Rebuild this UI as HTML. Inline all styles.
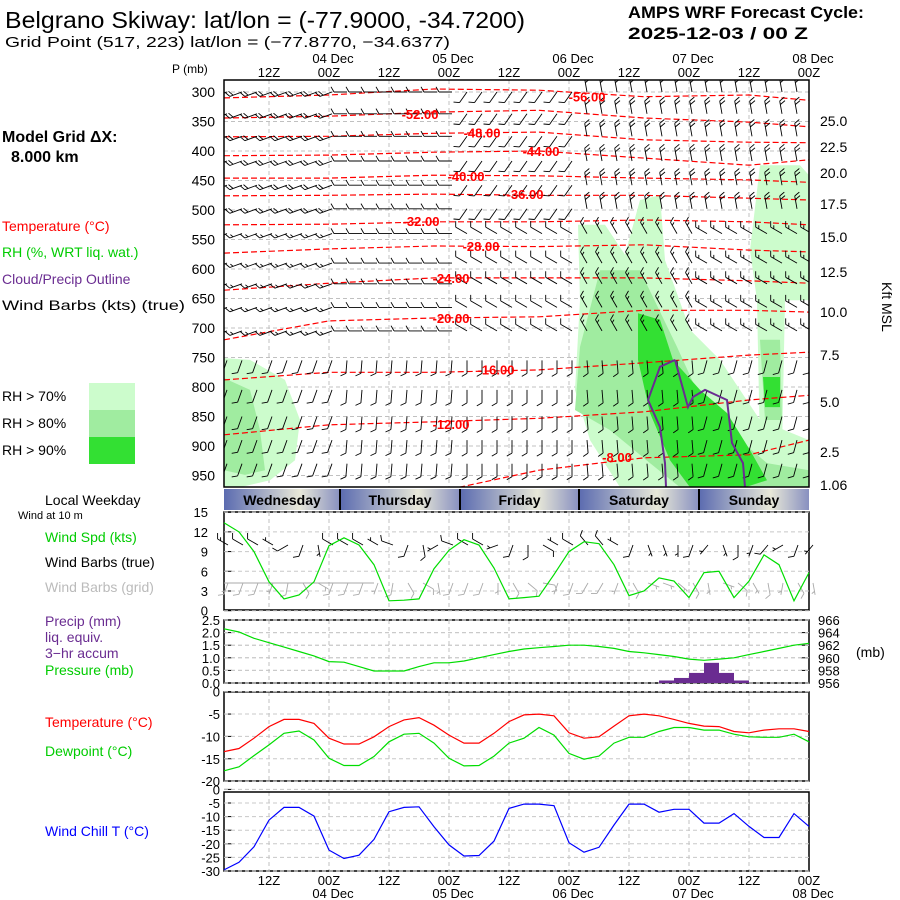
<!DOCTYPE html>
<html><head><meta charset="utf-8"><style>
html,body{margin:0;padding:0;background:#fff;}
svg{display:block;font-family:"Liberation Sans",sans-serif;}
.t{font-size:14px;}
</style></head><body>
<svg id="c" width="900" height="900" viewBox="0 0 900 900">
<defs>
<linearGradient id="dayg" x1="0" x2="1" y1="0" y2="0">
<stop offset="0" stop-color="#5b6bb0"/><stop offset="0.65" stop-color="#e8e8d8"/><stop offset="1" stop-color="#8890c0"/>
</linearGradient>
<clipPath id="mainclip"><rect x="224" y="80" width="585" height="407"/></clipPath>
</defs>
<rect x="0" y="0" width="900" height="900" fill="#fff"/>
<text x="5" y="28" font-size="23" textLength="520" lengthAdjust="spacingAndGlyphs">Belgrano Skiway:  lat/lon = (-77.9000, -34.7200)</text>
<text x="5" y="47" font-size="15" textLength="445" lengthAdjust="spacingAndGlyphs">Grid Point (517, 223) lat/lon = (−77.8770, −34.6377)</text>
<text x="628" y="18" font-size="17" font-weight="bold" textLength="236" lengthAdjust="spacingAndGlyphs">AMPS WRF Forecast Cycle:</text>
<text x="628" y="39" font-size="17" font-weight="bold" textLength="180" lengthAdjust="spacingAndGlyphs">2025-12-03 / 00  Z</text>
<text x="172" y="73" font-size="12">P (mb)</text>
<text x="2" y="142" font-size="16" font-weight="bold">Model Grid ΔX:</text>
<text x="11" y="162" font-size="16" font-weight="bold">8.000 km</text>
<text x="2" y="231" class="t" fill="#f00">Temperature (°C)</text>
<text x="2" y="257" class="t" fill="#0c0">RH (%, WRT liq. wat.)</text>
<text x="2" y="284" class="t" fill="#6a2c91">Cloud/Precip Outline</text>
<text x="2" y="310" class="t" fill="#000" textLength="183" lengthAdjust="spacingAndGlyphs">Wind Barbs (kts) (true)</text>
<text x="2" y="401" class="t">RH &gt; 70%</text>
<text x="2" y="428" class="t">RH &gt; 80%</text>
<text x="2" y="455" class="t">RH &gt; 90%</text>
<rect x="89" y="383" width="46" height="27" fill="#ccfccc"/>
<rect x="89" y="410" width="46" height="27" fill="#a0eca0"/>
<rect x="89" y="437" width="46" height="27" fill="#33e033"/>
<text x="45" y="505" class="t">Local Weekday</text>
<text x="18" y="519" font-size="11">Wind at 10 m</text>
<text x="45" y="542" class="t" fill="#0c0">Wind Spd (kts)</text>
<text x="45" y="567" class="t">Wind Barbs (true)</text>
<text x="45" y="592" class="t" fill="#bbb">Wind Barbs (grid)</text>
<text x="45" y="626" class="t" fill="#6a2c91">Precip (mm)</text>
<text x="45" y="642" class="t" fill="#6a2c91">liq. equiv.</text>
<text x="45" y="658" class="t" fill="#6a2c91">3−hr accum</text>
<text x="45" y="675" class="t" fill="#0c0">Pressure (mb)</text>
<text x="856" y="657" class="t">(mb)</text>
<text x="45" y="727" class="t" fill="#f00">Temperature (°C)</text>
<text x="45" y="756" class="t" fill="#0c0">Dewpoint (°C)</text>
<text x="45" y="836" class="t" fill="#00f">Wind Chill T (°C)</text>
<text x="0" y="0" class="t" transform="translate(882,282) rotate(90)">Kft MSL</text>
<g id="g"></g>
</svg>
<script>
// ---------- data ----------
const hours = [3,6,9,12,15,18,21,24,27,30,33,36,39,42,45,48,51,54,57,60,63,66,69,72,75,78,81,84,87,90,93,96,99,102,105,108,111,114,117,120];
const gridHours = [12,24,36,48,60,72,84,96,108,120];
const timeLabels = ['12Z','00Z','12Z','00Z','12Z','00Z','12Z','00Z','12Z','00Z'];
const dateHours = [24,48,72,96,120];
const dateLabels = ['04 Dec','05 Dec','06 Dec','07 Dec','08 Dec'];
const pLevels = [300,350,400,450,500,550,600,650,700,750,800,850,900,950];
const hgtLabels = ['25.0','22.5','20.0','17.5','15.0','12.5','10.0','7.5','5.0','2.5','1.06'];
const hgtPres = [349,393,437,490,546,605,673,746,825,910,966];
const dayNames = ['Wednesday','Thursday','Friday','Saturday','Sunday'];
const dayStartHours = [3,26.2,50.2,74,98];
const dayEndHours = [26.2,50.2,74,98,120];

const tempValues = [-56,-52,-48,-44,-40,-36,-32,-28,-24,-20,-16,-12];
const contourHours = [3,24,45,66,87,108,120];
const contourP = [
 [310,305,295,297,308,305,314],
 [344,341,334,331,344,351,359],
 [376,375,370,368,381,385,386],
 [408,407,402,400,412,424,415],
 [446,446,441,442,446,449,453],
 [476,475,473,475,475,480,483],
 [525,524,520,520,517,520,525],
 [573,566,561,562,559,568,571],
 [636,624,615,615,615,620,624],
 [720,688,683,681,670,670,673],
 [788,775,775,771,759,746,741],
 [881,864,859,853,842,822,814]
];
const minus8Hours = [50,66,87,108,120];
const minus8P = [970,941,920,915,890];
const labelValues = [-56,-52,-48,-44,-40,-36,-32,-28,-24,-20,-16,-12,-8];
const labelHours = [75.6,42.2,54.6,66.4,51.4,63.2,42.4,54.4,48.4,48.4,57.4,48.4,81.6];
const labelPres = [308,337,369,400,442,473,519,561,615,683,770,863,919];

const rh70MainH = [73.8,79.2,83.2,86.2,90.2,91.2,96.2,102.2,110.2,120,120,82.2,76.2,73.2,74.2];
const rh70MainP = [525,525,576,483,475,585,703,754,856,890,970,970,890,805,653];
const rh70RightH = [110.2,118.2,120,120,115.2,114.6,110.2,109.6,108.2];
const rh70RightP = [424,424,441,653,653,907,907,653,568];
const rh70LeftH = [3,8.2,15.2,18.2,17.2,12.2,6.2,3];
const rh70LeftP = [751,754,788,856,924,958,970,970];
const rh80MainH = [78.2,86.2,93.6,99.6,106.2,111.6,120,120,94.2,88.2,80.2,73.2,74.2];
const rh80MainP = [602,602,732,844,890,929,941,970,970,929,873,839,732];
const rh80RightH = [110.2,114.2,114.6,111.2];
const rh80RightP = [720,720,856,856];
const rh80LeftH = [3,8.2,10.2,11.2,7.2,3];
const rh80LeftP = [785,805,873,941,949,941];
const rh90MainH = [85.8,90.2,92.8,98.2,103.6,108.2,111.6,107.2,96.2,92.2,88.2,85.8];
const rh90MainP = [675,686,754,805,844,907,958,970,970,924,844,754];
const rh90RightH = [110.8,114.2,114.2,111.2];
const rh90RightP = [783,783,834,834];
const cloudAH = [93.2,90.2,87.8,90.2,91.2,91.4];
const cloudAP = [754,766,822,868,929,970];
const cloudBH = [93.2,95.8,96.8,99.2,103.6,104.6,106.8,107.2];
const cloudBP = [754,834,817,805,822,895,929,970];

const barbRowsP = [300,337,375,417,458,498,540,590,625,665,705,755,805,850,890,930];
const upperDir = [250,270,215,350,350];
const upperSpd = [20,10,10,20,20];
const midDir = [250,270,300,330,300];
const midSpd = [15,10,10,15,15];
const lowDir = [200,185,180,175,195];
const lowSpd = [10,10,10,10,10];

const windSpd = [13.4,12.0,9.0,4.4,1.8,2.4,4.4,9.9,11.1,10.0,7.0,1.5,1.6,1.8,6.4,9.2,10.8,10.0,6.5,1.8,2.0,2.2,5.5,9.0,10.5,10.2,7.0,2.3,3.0,5.0,4.5,2.0,5.8,6.0,2.0,4.5,8.5,7.0,1.5,5.8];
const windDir = [300,300,300,300,240,200,170,300,300,300,300,290,200,170,240,290,300,300,250,200,180,120,300,300,320,320,300,200,160,160,180,200,220,160,180,200,220,240,200,220];
const gridDir = [200,200,200,200,190,150,120,200,200,200,200,190,150,120,170,200,200,200,180,150,130,100,200,200,210,210,200,150,110,110,130,150,170,110,130,150,170,190,150,170];
const precip = [0,0,0,0,0,0,0,0,0,0,0,0,0,0,0,0,0,0,0,0,0,0,0,0,0,0,0,0,0,0.1,0.2,0.4,0.8,0.4,0.1,0,0,0,0,0];
const pressure = [964.6,964.1,963.1,962.4,961.7,961.0,960.3,959.4,959.3,958.6,957.9,957.9,957.9,958.6,959.2,959.2,959.5,960,960.5,961,961.4,961.6,961.8,962,962,961.8,961.5,961,960.8,960.5,960.2,959.8,959.6,959.8,960,960.5,961,961.5,962,962.3];
const temp = [-13.4,-12.7,-10.4,-7.8,-6.2,-6.2,-7.1,-10.4,-11.7,-11.7,-10.1,-7.8,-6.3,-5.8,-7.5,-9.7,-11.5,-11.5,-9.3,-6.7,-5.2,-5.0,-5.4,-9.2,-10.4,-10.1,-7.7,-5.4,-5.0,-5.4,-6.2,-7.1,-7.7,-7.8,-8.9,-9.2,-8.6,-8.3,-8.3,-8.9];
const dewpt = [-17.7,-16.8,-14.3,-11.9,-9.3,-8.8,-10.8,-14.9,-16.5,-16.5,-14.5,-11.2,-9.5,-9.3,-11.5,-14.9,-16.6,-16.5,-14.4,-11.5,-10.4,-8.0,-9.7,-13.8,-15.1,-14.4,-11.5,-10.2,-10.2,-8.9,-8.0,-8.0,-8.6,-8.6,-9.5,-10.1,-10.2,-10.2,-9.5,-11.2];
const windChill = [-29.6,-26.8,-21.1,-11.3,-6.6,-6.6,-9.8,-22.3,-25.4,-24.2,-18.4,-8.2,-6.6,-6.4,-13.7,-20.4,-24.5,-24.3,-19.0,-7.0,-5.4,-5.4,-6.0,-19.6,-23.1,-21.3,-13.1,-5.4,-5.4,-8.4,-7.3,-7.3,-12.4,-12.4,-8.9,-13.6,-17.7,-17.7,-8.9,-13.6];
const spdTicks = [0,3,6,9,12,15];
const precipTicks = ['0.0','0.5','1.0','1.5','2.0','2.5'];
const presTicks = [956,958,960,962,964,966];
const tempTicks = [0,-5,-10,-15,-20];
const wcTicks = [0,-5,-10,-15,-20,-25,-30];

const X0=224, X1=809;
const xH = h => X0 + (h-3)*5;
const yP = p => 92 + (p-300)*0.59;
const ySpd = v => 610.7 - v*6.57;
const yPrecip = v => 683 - v*25.2;
const yPres = v => 683 - (v-956)*6.3;
const yT = v => 691.7 - v*4.47;
const yWC = v => 789.4 - v*2.72;

const NS='http://www.w3.org/2000/svg';
const root=document.getElementById('g');
function mk(tag, attrs, parent){const e=document.createElementNS(NS,tag);for(const k in attrs)e.setAttribute(k,attrs[k]);(parent||root).appendChild(e);return e;}
function pts(xs,ys){return xs.map((x,i)=>x.toFixed(1)+','+ys[i].toFixed(1)).join(' ');}

const panels=[[80,487,'main-panel'],[512,610,'wind-panel'],[620,683,'precip-panel'],[692,781,'temperature-panel'],[792,871,'wind-chill-panel']];

panels.forEach(pn=>{
  gridHours.forEach(h=>{
    const l=mk('line',{x1:xH(h),x2:xH(h),y1:pn[0],y2:pn[1],stroke:'#c0c0c0','stroke-dasharray':'4,3','stroke-width':1});
    
    
  });
});
pLevels.forEach(p=>{
  const l=mk('line',{x1:X0,x2:X1,y1:yP(p),y2:yP(p),stroke:'#c0c0c0','stroke-dasharray':'4,3'});
  
  
  const t=mk('text',{x:215,y:yP(p)+5,'text-anchor':'end','font-size':14});
  t.textContent=p;
  
  
});
hgtLabels.forEach((s,i)=>{
  const t=mk('text',{x:820,y:yP(hgtPres[i])+5,'font-size':14});
  t.textContent=s;
  
  
});

const mg=mk('g',{'clip-path':'url(#mainclip)'});


function poly(hs,ps,fill,name){
  const e=mk('polygon',{points:pts(hs.map(xH),ps.map(yP)),fill:fill},mg);
  
  
}
poly(rh70MainH,rh70MainP,'#ccfccc','rh70-region');
poly(rh70RightH,rh70RightP,'#ccfccc','rh70-region');
poly(rh70LeftH,rh70LeftP,'#ccfccc','rh70-region');
poly(rh80MainH,rh80MainP,'#a0eca0','rh80-region');
poly(rh80RightH,rh80RightP,'#a0eca0','rh80-region');
poly(rh80LeftH,rh80LeftP,'#a0eca0','rh80-region');
poly(rh90MainH,rh90MainP,'#33e033','rh90-region');
poly(rh90RightH,rh90RightP,'#33e033','rh90-region');

contourP.forEach((ps,i)=>{
  const e=mk('polyline',{points:pts(contourHours.map(xH),ps.map(yP)),fill:'none',stroke:'#f00','stroke-width':1.2,'stroke-dasharray':'6,3'},mg);
  
  
});
{
  const e=mk('polyline',{points:pts(minus8Hours.map(xH),minus8P.map(yP)),fill:'none',stroke:'#f00','stroke-width':1.2,'stroke-dasharray':'6,3'},mg);
  
  
}

function barb(x,y,dir,spd,L,col,parent){
  const r=dir*Math.PI/180, ux=Math.sin(r), uy=-Math.cos(r);
  const ex=x+ux*L, ey=y+uy*L;
  let d='M'+x.toFixed(1)+' '+y.toFixed(1)+'L'+ex.toFixed(1)+' '+ey.toFixed(1);
  const a=r+Math.PI/3, fx=Math.sin(a), fy=-Math.cos(a);
  let s=spd, k=0;
  while(s>=7.5){const bx=ex-ux*k*3.5, by=ey-uy*k*3.5;d+='M'+bx.toFixed(1)+' '+by.toFixed(1)+'l'+(fx*6).toFixed(1)+' '+(fy*6).toFixed(1);s-=10;k++;}
  if(s>=2.5){const off=k?k*3.5:3.5;const bx=ex-ux*off, by=ey-uy*off;d+='M'+bx.toFixed(1)+' '+by.toFixed(1)+'l'+(fx*3.5).toFixed(1)+' '+(fy*3.5).toFixed(1);}
  return mk('path',{d:d,stroke:col,fill:'none','stroke-width':0.9},parent);
}
barbRowsP.forEach((p,ri)=>{
  const dirs = ri<6?upperDir:(ri<11?midDir:lowDir);
  const spds = ri<6?upperSpd:(ri<11?midSpd:lowSpd);
  hours.forEach((h,ci)=>{
    const day=Math.min(4,Math.floor(ci/8));
    const b=barb(xH(h)+3,yP(p),dirs[day],spds[day],13,'#000',mg);
    
    
  });
});

[[cloudAH,cloudAP],[cloudBH,cloudBP]].forEach(c=>{
  const e=mk('polyline',{points:pts(c[0].map(xH),c[1].map(yP)),fill:'none',stroke:'#6a2c91','stroke-width':2},mg);
  
  
});
labelValues.forEach((v,i)=>{
  const t=mk('text',{x:xH(labelHours[i]),y:yP(labelPres[i])+5,'text-anchor':'middle','font-size':13,'font-weight':'bold',fill:'#f00'},mg);
  t.textContent=v.toFixed(2);
  
  
});

gridHours.forEach((h,i)=>{
  const t=mk('text',{x:xH(h),y:77,'text-anchor':'middle','font-size':13});
  t.textContent=timeLabels[i];
  
  
  const b=mk('text',{x:xH(h),y:885,'text-anchor':'middle','font-size':13});
  b.textContent=timeLabels[i];
  
  
});
dateHours.forEach((h,i)=>{
  const t=mk('text',{x:xH(h)+4,y:63,'text-anchor':'middle','font-size':13});
  t.textContent=dateLabels[i];
  
  
  const b=mk('text',{x:xH(h)+4,y:898,'text-anchor':'middle','font-size':13});
  b.textContent=dateLabels[i];
  
  
});

dayNames.forEach((d,i)=>{
  const x1=xH(dayStartHours[i]), x2=xH(dayEndHours[i]);
  const r=mk('rect',{x:x1,y:489,width:x2-x1,height:21,fill:'url(#dayg)'});
  
  
  if(i>0){const s=mk('line',{x1:x1,x2:x1,y1:489,y2:510,stroke:'#000','stroke-width':2});
    
    }
  const t=mk('text',{x:(x1+x2)/2,y:505,'text-anchor':'middle','font-size':14,'font-weight':'bold'});
  t.textContent=d;
  
  
});

panels.forEach(pn=>{
  const r=mk('rect',{x:X0,y:pn[0],width:X1-X0,height:pn[1]-pn[0],fill:'none',stroke:'#000','stroke-width':1.5});
  
  
});

function ticks(vals,labels,yf,xr,name,side){
  vals.forEach((v,i)=>{
    const y=yf(v);
    const t=mk('text',{x:xr,y:y+5,'text-anchor':side==='r'?'start':'end','font-size':13});
    t.textContent=labels[i];
    
    
    const tk=mk('line',{x1:side==='r'?X1-8:X0,x2:side==='r'?X1:X0+8,y1:y,y2:y,stroke:'#000'});
    
    
    const gl=mk('line',{x1:X0,x2:X1,y1:y,y2:y,stroke:'#c8c8c8','stroke-dasharray':'4,3'});
    
    
  });
}
ticks(spdTicks,spdTicks.map(String),ySpd,208,'wind-speed-tick-label');
ticks(precipTicks.map(Number),precipTicks,yPrecip,220,'precip-tick-label');
ticks(presTicks,presTicks.map(String),yPres,818,'pressure-tick-label-right','r');
ticks(tempTicks,tempTicks.map(String),yT,220,'temperature-tick-label');
ticks(wcTicks,wcTicks.map(String),yWC,220,'wind-chill-tick-label');

hours.forEach((h,i)=>{
  const b=barb(xH(h)+4,545,windDir[i],windSpd[i]<3?8:windSpd[i],12,'#000');
  
  
  const g=barb(xH(h)+4,583,gridDir[i],windSpd[i]<3?8:windSpd[i],12,'#aaa');
  
  
});
{
  const l=mk('line',{x1:X0,x2:xH(hours[10]),y1:583,y2:583,stroke:'#aaa'});
  
  
}
const xs=hours.map(xH);
function line(vals,yf,col,name){
  const e=mk('polyline',{points:pts(xs,vals.map(yf)),fill:'none',stroke:col,'stroke-width':1.2});
  
  
}
line(windSpd,ySpd,'#0d0','wind-speed-line');
precip.forEach((v,i)=>{
  if(v<=0)return;
  const r=mk('rect',{x:xs[i],y:yPrecip(v),width:15,height:683-yPrecip(v),fill:'#6a2c91'});
  
  
});
line(pressure,yPres,'#0d0','pressure-line');
line(temp,yT,'#f00','temperature-line');
line(dewpt,yT,'#0d0','dewpoint-line');
line(windChill,yWC,'#00f','wind-chill-line');
</script>
</body></html>
